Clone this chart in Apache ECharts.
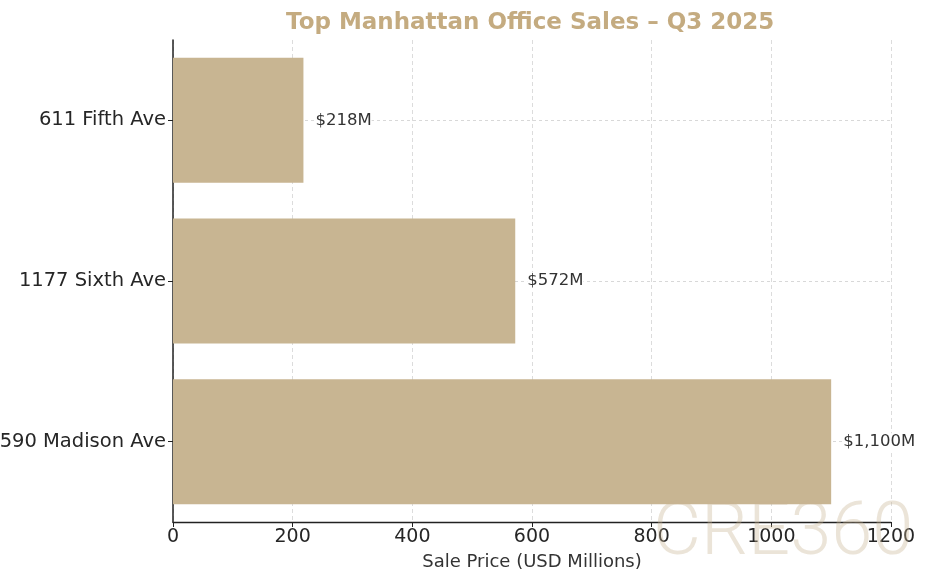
<!DOCTYPE html>
<html>
<head>
<meta charset="utf-8">
<script src="https://cdn.jsdelivr.net/npm/echarts@6/dist/echarts.min.js"></script>
<style>html,body{margin:0;padding:0;background:#fff}#c{width:943px;height:585px}</style>
</head>
<body>
<div id="c"></div>
<script>
const categories = ['611 Fifth Ave', '1177 Sixth Ave', '590 Madison Ave'];
const salePrices = [218, 572, 1100];
const valueLabels = ['$218M', '$572M', '$1,100M'];
const xTicks = [0, 200, 400, 600, 800, 1000, 1200];

const chart = echarts.init(document.getElementById('c'));
chart.setOption({
  backgroundColor: '#ffffff',
  animation: false,
  title: {
    text: 'Top Manhattan Office Sales – Q3 2025',
    left: 281, top: 7,
    textStyle: { fontFamily: 'DejaVu Sans', fontWeight: 'bold', fontSize: 23, color: '#c4ab80' }
  },
  graphic: [{
    type: 'text', left: 653, top: 498, z: 100, silent: true,
    style: { text: 'CRE360', font: '300 74px Roboto', fill: 'rgba(200,181,146,0.36)' }
  }],
  grid: { left: 173, right: 52, top: 40, bottom: 63, containLabel: false, outerBoundsMode: 'none' },
  xAxis: {
    type: 'value', min: xTicks[0], max: xTicks[xTicks.length - 1], interval: 200,
    name: 'Sale Price (USD Millions)', nameLocation: 'middle', nameGap: 31,
    nameTextStyle: { fontFamily: 'DejaVu Sans', fontSize: 18, color: '#333' },
    axisLine: { show: true, lineStyle: { color: '#222', width: 1.3 } },
    axisTick: { show: true, length: 5, lineStyle: { color: '#222' } },
    axisLabel: { fontFamily: 'DejaVu Sans', fontSize: 19, color: '#262626', margin: 6,
      formatter: v => String(v) },
    splitLine: { show: true, lineStyle: { color: '#dcdcdc', type: [4, 3], width: 1 } }
  },
  yAxis: {
    type: 'category', data: categories, inverse: true,
    axisLine: { show: true, lineStyle: { color: '#222', width: 1.5 } },
    axisTick: { show: true, alignWithLabel: true, length: 5, inside: false, lineStyle: { color: '#222' } },
    axisLabel: { fontFamily: 'DejaVu Sans', fontSize: 19.5, color: '#262626', margin: 7 },
    splitLine: { show: true, alignWithLabel: true, lineStyle: { color: '#d8d8d8', type: [3, 3], width: 1 } }
  },
  series: [{
    type: 'bar', data: salePrices, barWidth: 125,
    itemStyle: { color: '#c8b592' },
    z: 3,
    label: {
      show: true, position: 'right', distance: 12,
      formatter: p => valueLabels[p.dataIndex],
      fontFamily: 'DejaVu Sans', fontSize: 16.5, color: '#333',
      backgroundColor: '#fff', padding: [0, 0, 0, 0]
    }
  }]
});
</script>
</body>
</html>
